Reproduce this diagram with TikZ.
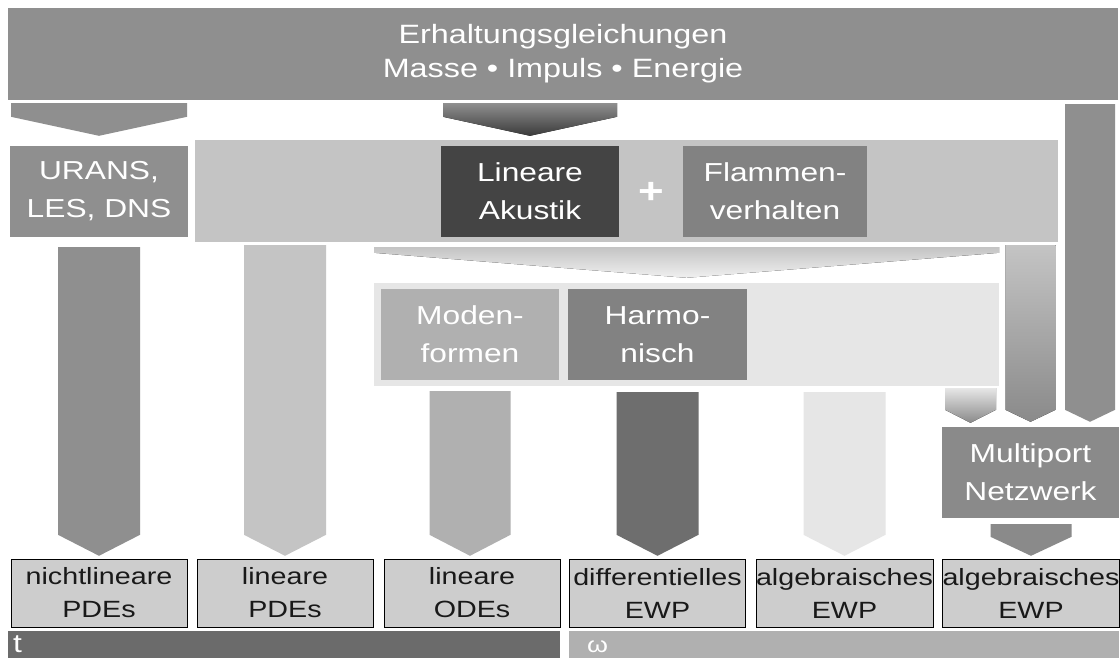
\documentclass[tikz,border=0pt]{standalone}
\usepackage{fontspec}
\setmainfont{Liberation Sans}[FakeStretch=1.22]
\usetikzlibrary{positioning,calc}
\usepackage{xcolor}

\definecolor{gTop}{HTML}{8F8F8F}
\definecolor{gPanel}{HTML}{C4C4C4}
\definecolor{gDark}{HTML}{444444}
\definecolor{gMid}{HTML}{828282}
\definecolor{gLight}{HTML}{E6E6E6}
\definecolor{gModen}{HTML}{B0B0B0}
\definecolor{gDiff}{HTML}{6E6E6E}
\definecolor{gMulti}{HTML}{8A8A8A}
\definecolor{gRes}{HTML}{CDCDCD}
\definecolor{gT}{HTML}{6B6B6B}
\definecolor{gDeep}{HTML}{3A3A3A}

% block arrow: [style] from, to, x-node, half width, top gap, tip gap, head
\newcommand\blockarr[8][]{%
    \fill[#1] let \p1=(#2.south), \p2=(#3.north), \p3=(#4) in
        ({\x3-#5pt},{\y1-#6pt}) -- ({\x3+#5pt},{\y1-#6pt})
        -- ({\x3+#5pt},{\y2+#7pt+#8pt}) -- (\x3,{\y2+#7pt})
        -- ({\x3-#5pt},{\y2+#7pt+#8pt}) -- cycle;}

\begin{document}
\begin{tikzpicture}[x=1pt,y=-1pt,
    box/.style ={
        text=white,
        align=center,
        inner sep=0pt,
        font=\fontsize{26}{38}\selectfont
    },
    res/.style ={
        draw=black,
        fill=gRes,
        text=black!90,
        align=center,
        inner sep=0pt,
        minimum width=176pt,
        minimum height=68pt,
        font=\fontsize{23.5}{33}\selectfont
    },
    fA/.style={fill=gTop},
    fPanel/.style={fill=gPanel},
    fModen/.style={fill=gModen},
    fDiff/.style={fill=gDiff},
    fLight/.style={fill=gLight},
    fMulti/.style={fill=gMulti},
    sDark/.style={top color=gTop, bottom color=gDeep},
    sWide/.style={top color=gPanel, bottom color=gLight!60!white},
    sRight/.style={top color=gPanel, bottom color=gMulti},
    sSmall/.style={top color=gLight, bottom color=gMulti}
    ]
    \useasboundingbox (0,0) rectangle (1120,657);
    \fill[white] (0,0) rectangle (1120,657);

    % panels and boxes
    \node[box, fill=gTop, minimum width=1110pt, minimum height=92pt,
          font=\fontsize{26.5}{34}\selectfont] (top) at (563,54)
          {Erhaltungsgleichungen\\Masse • Impuls • Energie};
    \node[fill=gPanel, minimum width=863pt, minimum height=102pt, inner sep=0pt] (panel) at (626.5,191) {};
    \node[fill=gLight, minimum width=625pt, minimum height=103pt, inner sep=0pt] (panel2) at (686.5,334.5) {};

    \foreach \x/ \pos/ \col/ \w/ \txt in {{urans/(99,191.5)/gTop/178/{URANS,\\LES, DNS}},
                                        {akustik/(530,191.5)/gDark/178/{Lineare\\Akustik}},
                                        {flamme/(775,191.5)/gMid/184/{Flammen-\\verhalten}},
                                        {moden/(470,334.5)/gModen/178/{Moden-\\formen}},
                                        {harm/(657.5,334.5)/gMid/179/{Harmo-\\nisch}},
                                        {multi/(1030.5,472.5)/gMulti/177/{Multiport\\Netzwerk}}}
        \node[box, fill=\col, minimum width=\w pt, minimum height=91pt] (\x) at \pos {\txt};

    \node[text=white, font=\fontsize{36}{36}\selectfont\bfseries] (plus) at (651,193) {+};

    % results
    \foreach \x/ \xc/ \txt in {{resA/99/{nichtlineare\\PDEs}}, {resB/285/{lineare\\PDEs}},
                              {resC/472/{lineare\\ODEs}}, {resD/657.5/{differentielles\\EWP}},
                              {resE/844.5/{algebraisches\\EWP}}, {resF/1031/{algebraisches\\EWP}}}
        \node[res] (\x) at (\xc,593) {\txt};

    % domain bars
    \node[fill=gT, minimum width=552pt, minimum height=40pt, inner sep=0pt, anchor=north west] (tbar) at (8,631) {};
    \node[fill=gModen, minimum width=550pt, minimum height=40pt, inner sep=0pt, anchor=north west] (wbar) at (569,631) {};
    \node[text=white, anchor=base west, inner sep=0pt, font=\fontsize{26}{26}\selectfont] (tlbl) at (13,652) {t};
    \node[text=white, anchor=base west, inner sep=0pt, font=\fontsize{22}{22}\selectfont] (wlbl) at (587,652) {ω};

    % arrows
    \coordinate (xr) at (1090,0);
    \coordinate (xs) at (970.5,0);
    \foreach \src/ \dst/ \xn/ \hw/ \tg/ \bg/ \hd/ \sty in {top/urans/urans/88/3/10/19/fA, top/akustik/akustik/87/3/10/19/sDark,
                                      top/multi/xr/25/4/5/12/fA, urans/resA/resA/41/10/3/21/fA,
                                      panel/resB/resB/41/3/3/21/fPanel, panel/panel2/panel2/312.5/5/5/25/sWide,
                                      panel/multi/multi/25/3/5/12/sRight, moden/resC/moden/40.5/11/3/21/fModen,
                                      harm/resD/harm/41/12/3/21/fDiff, panel2/resE/resE/41/6/3/21/fLight,
                                      panel2/multi/xs/25.5/2/4/13/sSmall, multi/resF/resF/40.5/6/3/19/fMulti}
        \blockarr[\sty]{\src}{\dst}{\xn}{\hw}{\tg}{\bg}{\hd};
\end{tikzpicture}
\end{document}
